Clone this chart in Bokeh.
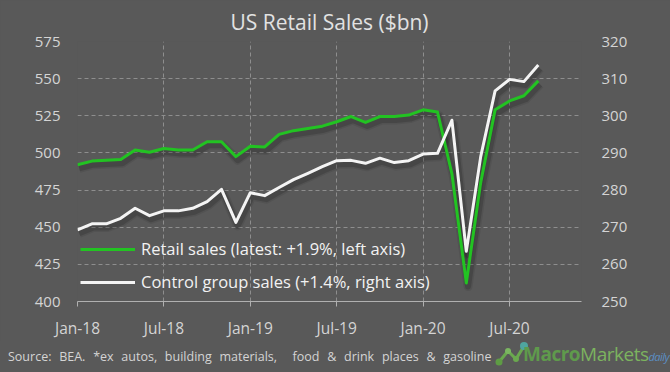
from bokeh.plotting import figure
from bokeh.models import (Range1d, LinearAxis, FixedTicker, Legend, LegendItem,
                          ColumnDataSource, Div, Title)
from bokeh.transform import dodge
from bokeh.layouts import column
from bokeh.embed import file_html
from bokeh.resources import INLINE

months = ["Jan-18", "Feb-18", "Mar-18", "Apr-18", "May-18", "Jun-18", "Jul-18", "Aug-18",
          "Sep-18", "Oct-18", "Nov-18", "Dec-18", "Jan-19", "Feb-19", "Mar-19", "Apr-19",
          "May-19", "Jun-19", "Jul-19", "Aug-19", "Sep-19", "Oct-19", "Nov-19", "Dec-19",
          "Jan-20", "Feb-20", "Mar-20", "Apr-20", "May-20", "Jun-20", "Jul-20", "Aug-20",
          "Sep-20"]
retail_sales = [492.0, 494.5, 495.0, 495.5, 502.0, 500.5, 503.0, 502.0, 502.0, 507.5, 507.5,
                497.5, 504.5, 504.0, 512.5, 515.0, 516.5, 518.0, 521.0, 524.5, 520.5, 524.5,
                524.5, 525.5, 529.0, 527.5, 486.0, 412.5, 480.0, 529.0, 535.0, 538.5, 548.5]
control_group = [269.3, 270.9, 270.9, 272.4, 275.1, 273.1, 274.4, 274.4, 275.1, 276.9, 280.2,
                 271.3, 279.3, 278.5, 280.7, 282.8, 284.5, 286.3, 287.9, 288.0, 287.2, 288.6,
                 287.4, 287.9, 289.7, 289.9, 298.8, 263.5, 289.0, 306.7, 309.8, 309.2, 313.7]
left_ticks = [400, 425, 450, 475, 500, 525, 550, 575]
right_ticks = [250, 260, 270, 280, 290, 300, 310, 320]
x_label_step = 6

title_text = "US Retail Sales ($bn)"
legend_retail = "Retail sales (latest: +1.9%, left axis)"
legend_control = "Control group sales (+1.4%, right axis)"
source_text = "Source: BEA. *ex autos, building materials,&nbsp; food &amp; drink places &amp; gasoline"

BG = "#595959"
GREEN = "#22c322"
WHITE = "#f4f4f4"
TXT = "#d4d4d4"
GRID = "#8e8e8e"
FONT = "Open Sans"

idx = list(range(len(months)))
src = ColumnDataSource(dict(x=idx, retail=retail_sales, control=control_group))

p = figure(frame_width=504, frame_height=260,
           min_border_left=77, min_border_right=89, min_border_top=40, min_border_bottom=40,
           x_range=Range1d(0, 35), y_range=Range1d(left_ticks[0], left_ticks[-1]),
           output_backend="svg", toolbar_location=None,
           background_fill_color=BG, border_fill_color=BG, outline_line_color=None)
p.extra_y_ranges = {"right": Range1d(right_ticks[0], right_ticks[-1])}

p.title = Title(text=title_text, align="center", offset=6, standoff=11,
                text_font=FONT, text_font_size="21px", text_font_style="normal",
                text_color="#e2e2e2")

# axes
xt = FixedTicker(ticks=idx[::x_label_step])
p.xaxis.ticker = xt
p.xaxis.major_label_overrides = {i: months[i] for i in idx[::x_label_step]}
p.xaxis.axis_line_color = "#b0b0b0"
p.xaxis.major_tick_line_color = "#b0b0b0"
p.xaxis.major_tick_out = 5
p.xaxis.major_tick_in = 0
p.xaxis.minor_tick_line_color = None
p.xaxis.major_label_standoff = 10
p.xaxis.major_label_text_font_size = "15.5px"
p.xaxis.major_label_text_color = TXT
p.xaxis.major_label_text_font = FONT

p.yaxis.ticker = FixedTicker(ticks=left_ticks)
p.yaxis.axis_line_color = None
p.yaxis.major_tick_line_color = None
p.yaxis.minor_tick_line_color = None
p.yaxis.major_label_standoff = 11
p.yaxis.major_label_text_font_size = "15px"
p.yaxis.major_label_text_color = TXT
p.yaxis.major_label_text_font = FONT

ry = LinearAxis(y_range_name="right", ticker=FixedTicker(ticks=right_ticks))
ry.axis_line_color = None
ry.major_tick_line_color = None
ry.minor_tick_line_color = None
ry.major_label_standoff = 14
ry.major_label_text_font_size = "15px"
ry.major_label_text_color = TXT
ry.major_label_text_font = FONT
p.add_layout(ry, "right")

# grids
p.xgrid.ticker = xt
p.xgrid.grid_line_color = GRID
p.xgrid.grid_line_dash = "4 3"
p.ygrid.ticker = FixedTicker(ticks=left_ticks)
p.ygrid.grid_line_color = GRID
p.ygrid.grid_line_dash = "4 3"

# soft drop shadows under the lines (same data, shifted by the library's dodge transform)
for w, a in ((9, 0.08), (6, 0.14)):
    p.line(x=dodge("x", 0.12, range=p.x_range), y=dodge("retail", -2.4, range=p.y_range),
           source=src, line_color="black", line_alpha=a, line_width=w, line_join="round")
    p.line(x=dodge("x", 0.12, range=p.x_range),
           y=dodge("control", -0.95, range=p.extra_y_ranges["right"]),
           source=src, y_range_name="right", line_color="black", line_alpha=a,
           line_width=w, line_join="round")

# lines
r1 = p.line("x", "retail", source=src, line_color=GREEN, line_width=3, line_join="round")
r2 = p.line("x", "control", source=src, y_range_name="right", line_color=WHITE,
            line_width=3, line_join="round")

legend = Legend(items=[LegendItem(label=legend_retail, renderers=[r1]),
                       LegendItem(label=legend_control, renderers=[r2])],
                location=(3, 8), background_fill_alpha=0, border_line_color=None,
                padding=0, margin=0, spacing=10, glyph_width=55, glyph_height=20,
                label_height=20, label_standoff=6, label_text_font_size="16.5px",
                label_text_color="#f2f2f2", label_text_font=FONT)
p.add_layout(legend)

# footer: source note and logo
logo_svg = ('<svg width="34" height="28" style="position:absolute;left:494px;top:0px">'
            '<polyline points="5,21 14,10 22,18 30,5" fill="none" stroke="#6aa84f" stroke-width="3"/>'
            '<circle cx="5" cy="21" r="3.5" fill="#5e9c44"/>'
            '<circle cx="14" cy="10" r="3" fill="#7bb661"/>'
            '<circle cx="22" cy="18" r="3" fill="#6aa84f"/>'
            '<circle cx="30" cy="5" r="4" fill="#4fa6a0"/></svg>')
footer_html = (
    '<div style="position:relative;width:670px;height:32px;background:#595959;'
    'font-family:\'Open Sans\';">'
    '<span style="position:absolute;left:8px;top:7px;font-size:12.5px;color:#d4d4d4;'
    'white-space:nowrap;word-spacing:4.5px;">' + source_text + '</span>' + logo_svg +
    '<span style="position:absolute;left:523px;top:0px;font-size:19px;white-space:nowrap;'
    'letter-spacing:-0.5px;">'
    '<span style="color:#5f9a4c;font-weight:bold;">Macro</span>'
    '<span style="color:#7cb35f;">Markets</span>'
    '<span style="color:#5b8fc4;font-style:italic;font-size:11px;">daily</span></span>'
    '</div>')
footer = Div(text=footer_html, width=670, height=32, margin=(0, 0, 0, 0))

layout = column(p, footer, spacing=0, background=BG)

html = file_html(layout, INLINE)
html = html.replace("</head>", "<style>html,body{background:#595959;}</style></head>", 1)
open("out.html", "w").write(html)
